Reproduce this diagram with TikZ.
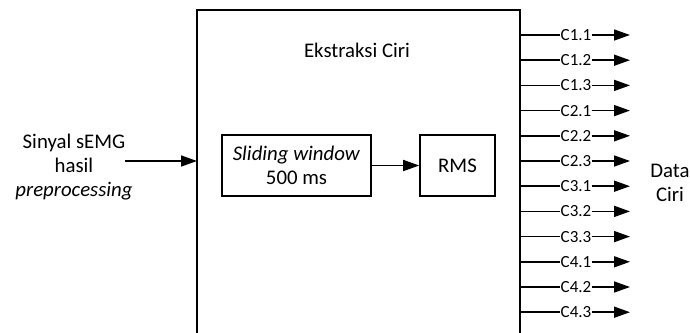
\documentclass[tikz,border=0pt]{standalone}
\usepackage{fontspec}
\setmainfont{Carlito}
\usepackage{tikz}
\usetikzlibrary{arrows.meta, positioning}

\tikzset{
  blok/.style={draw, thick, minimum height=30.5pt, align=center, inner sep=0pt},
  panah/.style={-{Triangle[length=8pt,width=5.5pt]}, thick},
  fitur/.style={font=\fontsize{8.5}{10}\selectfont, inner sep=0pt}
}

\begin{document}
\begin{tikzpicture}[x=0.5pt, y=-0.5pt, font=\fontsize{10.4}{12}\selectfont]
\useasboundingbox (0,0) rectangle (690,332);

% Ekstraksi Ciri block (runs off the bottom)
\draw[thick] (197,345) -- (197,10) -- (520,10) -- (520,345);
\node (judul) at (357,50) {Ekstraksi Ciri};
\coordinate (masuk) at (197,161);

% Input
\node[align=center] (input) at (74,167) {Sinyal sEMG\\hasil\\\textit{preprocessing}};
\coordinate (awal) at (125,161);
\draw[panah] (awal) -- (masuk);

% Inner blocks
\node[blok, minimum width=74.5pt] (window) at (296.5,165.5) {\textit{Sliding window}\\500 ms};
\node[blok, minimum width=37.5pt] (rms) at (457.5,165.5) {RMS};
\draw[panah] (window) -- (rms);

% Feature outputs
\foreach \nama [count=\i from 0] in {C1.1,C1.2,C1.3,C2.1,C2.2,C2.3,C3.1,C3.2,C3.3,C4.1,C4.2,C4.3} {
  \coordinate (kiri\i) at (520,35+25.2*\i);
  \node[fitur] (c\i) at (576,35+25.2*\i) {\nama};
  \coordinate (ujung\i) at (630,35+25.2*\i);
  \draw[thick] (kiri\i) -- (c\i);
  \draw[panah] (c\i) -- (ujung\i);
}

\node[align=center] (data) at (670,183) {Data\\Ciri};
\end{tikzpicture}
\end{document}
